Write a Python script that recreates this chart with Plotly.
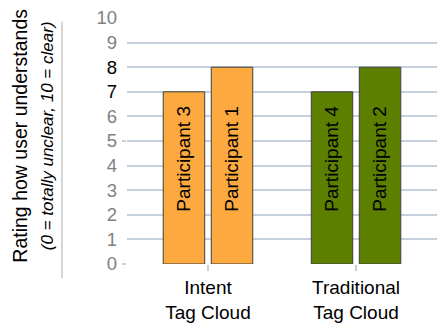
import plotly.graph_objects as go

categories = ["Intent<br>Tag Cloud", "Traditional<br>Tag Cloud"]
first_values = [7, 7]
first_labels = ["Participant 3", "Participant 4"]
second_values = [8, 8]
second_labels = ["Participant 1", "Participant 2"]
bar_colors = ["#FCA940", "#5C7F00"]
y_tickvals = [0, 1, 2, 3, 4, 5, 6, 7, 8, 9, 10]
y_ticklabels = ["0", "1", "2", "3", "4", "5", "6", "7", "8", "9", "10"]
dark_ticks = [7, 8]
label_y = 4.28

FONT = "Liberation Sans, Arial, sans-serif"
BARGAP = 0.351
BARGROUPGAP = 0.136

fig = go.Figure()
for vals in (first_values, second_values):
    fig.add_trace(go.Bar(
        x=categories, y=vals,
        marker=dict(color=bar_colors, line=dict(color="#404040", width=1)),
        showlegend=False, hoverinfo="skip",
    ))

ticktext = [
    f"<span style='color:#000000'>{t}</span>" if v in dark_ticks else t
    for v, t in zip(y_tickvals, y_ticklabels)
]

annotations = []
slot = (1 - BARGAP) / 2
for i in range(len(categories)):
    for j, labels in enumerate((first_labels, second_labels)):
        annotations.append(dict(
            x=i + (j - 0.5) * slot, y=label_y, xref="x", yref="y",
            text=labels[i], textangle=-90, showarrow=False,
            font=dict(family=FONT, size=19, color="#000000"),
        ))

annotations.append(dict(
    x=-0.303, y=0.522, xref="paper", yref="paper",
    text="Rating how user understands<br><i><span style='font-size:17px'>(0 = totally unclear, 10 = clear)</span></i>",
    textangle=-90, showarrow=False, xanchor="center", yanchor="middle",
    font=dict(family=FONT, size=19.5, color="#000000"),
))

fig.update_layout(
    width=437, height=323,
    margin=dict(l=127, r=0, t=18, b=57),
    paper_bgcolor="white", plot_bgcolor="white",
    barmode="group", bargap=BARGAP, bargroupgap=BARGROUPGAP,
    font=dict(family=FONT, size=19, color="#000000"),
    annotations=annotations,
    shapes=[dict(type="line", xref="paper", yref="paper",
                 x0=-0.2097, x1=-0.2097, y0=0.985, y1=-0.058,
                 line=dict(color="#aaaaaa", width=1))],
)
fig.update_yaxes(
    range=[0, 10], tickvals=y_tickvals, ticktext=ticktext,
    tickfont=dict(family=FONT, size=18.5, color="#808080"),
    showgrid=True, gridcolor="#C6CFDE", gridwidth=1.5,
    zeroline=False, showline=False, ticks="",
    ticklabelstandoff=9,
    minor=dict(tickvals=[0, 5], ticks="outside", ticklen=4, tickcolor="#C6CFDE", tickwidth=1.5, showgrid=False),
)
fig.update_xaxes(
    range=[-0.547, 1.547],
    tickfont=dict(family=FONT, size=19, color="#000000"),
    ticks="outside", ticklen=6, tickcolor="#C6CFDE", tickwidth=1.5,
    showline=False, showgrid=False, zeroline=False,
)

fig.write_html("out.html")
